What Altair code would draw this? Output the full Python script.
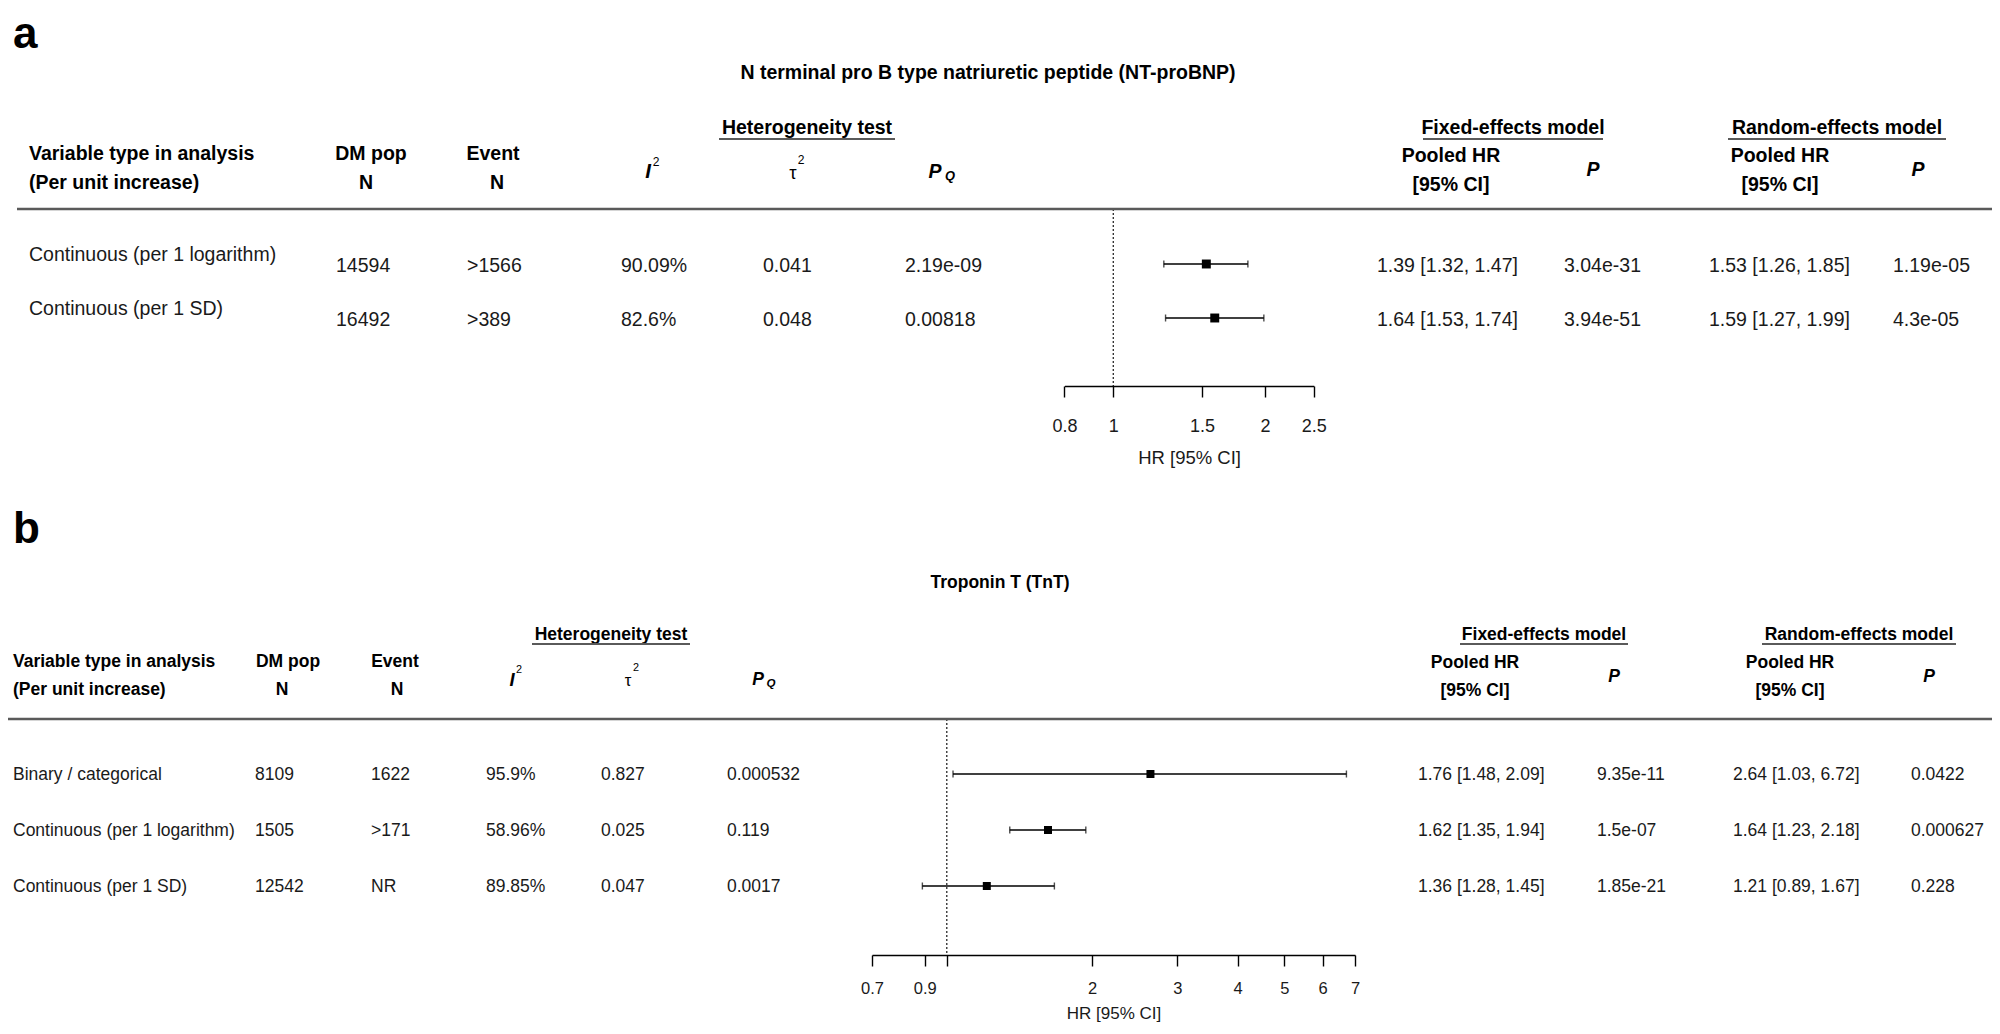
import altair as alt
import pandas as pd

FONT = "Liberation Sans"
OFF = 8          # page margin
W, H = 1984, 1018

# ---------------- Panel a : NT-proBNP ----------------
a_title = "N terminal pro B type natriuretic peptide (NT-proBNP)"
a_labels = ["Continuous (per 1 logarithm)", "Continuous (per 1 SD)"]
a_dmpop = ["14594", "16492"]
a_event = [">1566", ">389"]
a_i2 = ["90.09%", "82.6%"]
a_tau2 = ["0.041", "0.048"]
a_pq = ["2.19e-09", "0.00818"]
a_fixed_hr = ["1.39 [1.32, 1.47]", "1.64 [1.53, 1.74]"]
a_fixed_p = ["3.04e-31", "3.94e-51"]
a_rand_hr = ["1.53 [1.26, 1.85]", "1.59 [1.27, 1.99]"]
a_rand_p = ["1.19e-05", "4.3e-05"]
# plotted estimate (random-effects model, heterogeneity significant)
a_est = [1.53, 1.59]
a_lo = [1.26, 1.27]
a_hi = [1.85, 1.99]
a_ticks = [0.8, 1, 1.5, 2, 2.5]
a_domain = [0.8, 2.5]

# ---------------- Panel b : Troponin T ----------------
b_title = "Troponin T (TnT)"
b_labels = ["Binary / categorical", "Continuous (per 1 logarithm)", "Continuous (per 1 SD)"]
b_dmpop = ["8109", "1505", "12542"]
b_event = ["1622", ">171", "NR"]
b_i2 = ["95.9%", "58.96%", "89.85%"]
b_tau2 = ["0.827", "0.025", "0.047"]
b_pq = ["0.000532", "0.119", "0.0017"]
b_fixed_hr = ["1.76 [1.48, 2.09]", "1.62 [1.35, 1.94]", "1.36 [1.28, 1.45]"]
b_fixed_p = ["9.35e-11", "1.5e-07", "1.85e-21"]
b_rand_hr = ["2.64 [1.03, 6.72]", "1.64 [1.23, 2.18]", "1.21 [0.89, 1.67]"]
b_rand_p = ["0.0422", "0.000627", "0.228"]
# plotted estimate (random for rows 1 & 3, fixed for row 2 where P_Q > 0.1)
b_est = [2.64, 1.62, 1.21]
b_lo = [1.03, 1.35, 0.89]
b_hi = [6.72, 1.94, 1.67]
b_ticks = [0.7, 0.9, 1, 2, 3, 4, 5, 6, 7]
b_hidden_tick = 1
b_domain = [0.7, 7]

col_names = ["label", "dmpop", "event", "i2", "tau2", "pq", "fhr", "fp", "rhr", "rp"]


def frame(labels, dmpop, event, i2, tau2, pq, fhr, fp, rhr, rp, est, lo, hi):
    return pd.DataFrame({
        "idx": list(range(len(labels))), "label": labels, "dmpop": dmpop, "event": event,
        "i2": i2, "tau2": tau2, "pq": pq, "fhr": fhr, "fp": fp, "rhr": rhr, "rp": rp,
        "est": est, "lo": lo, "hi": hi,
    })


df_a = frame(a_labels, a_dmpop, a_event, a_i2, a_tau2, a_pq, a_fixed_hr, a_fixed_p,
             a_rand_hr, a_rand_p, a_est, a_lo, a_hi)
df_b = frame(b_labels, b_dmpop, b_event, b_i2, b_tau2, b_pq, b_fixed_hr, b_fixed_p,
             b_rand_hr, b_rand_p, b_est, b_lo, b_hi)


def txt(text, x, y, size, bold=False, italic=False, align="left", color="black",
        baseline="middle"):
    return alt.Chart(alt.Data(values=[{"k": 0}])).mark_text(
        text=text, font=FONT, fontSize=size,
        fontWeight="bold" if bold else "normal",
        fontStyle="italic" if italic else "normal",
        align=align, baseline=baseline, color=color,
    ).encode(x=alt.value(x - OFF), y=alt.value(y - OFF))


def hline(x0, x1, y, width=2.5, color="#5a5a5a"):
    return alt.Chart(alt.Data(values=[{"k": 0}])).mark_rule(
        color=color, strokeWidth=width
    ).encode(x=alt.value(x0 - OFF), x2=alt.value(x1 - OFF), y=alt.value(y - OFF))


def panel(df, L):
    fs = L["fs"]
    n = len(df)
    yscale = alt.Scale(domain=[0, n - 1], range=[L["row_y"][0] - OFF, L["row_y"][1] - OFF],
                       nice=False, zero=False)
    Y = alt.Y("idx:Q", scale=yscale, axis=None)
    xscale = alt.Scale(type="log", domain=L["domain"],
                       range=[L["ax_x"][0] - OFF, L["ax_x"][1] - OFF], nice=False)
    label_expr = "format(datum.value, '~g')"
    if L.get("hide") is not None:
        label_expr = f"datum.value == {L['hide']} ? '' : format(datum.value, '~g')"
    axis = alt.Axis(
        orient="bottom", offset=L["ax_y"] - (H + OFF), values=L["ticks"],
        labelExpr=label_expr, grid=False,
        labelFont=FONT, labelFontSize=L["tfs"], labelColor="#1a1a1a",
        labelPadding=L["lpad"], labelOverlap=False, labelFlush=False, labelBound=False,
        tickSize=11, tickWidth=1.4, tickColor="black",
        domainColor="black", domainWidth=1.4,
        title="HR [95% CI]", titleFont=FONT, titleFontSize=L["tfs"] + 0.5,
        titleFontWeight="normal", titleColor="#1a1a1a",
        titleY=L["title_y"] - L["ax_y"], titleBaseline="middle",
    )
    layers = []
    # table columns
    for name, x in zip(col_names, L["cols"]):
        dy = L["label_dy"] if name == "label" else 0
        layers.append(
            alt.Chart(df).mark_text(align="left", baseline="middle", font=FONT, fontSize=fs,
                                    color="#1a1a1a", dy=dy)
            .encode(x=alt.value(x - OFF), y=Y, text=f"{name}:N")
        )
    # reference line at HR = 1
    layers.append(
        alt.Chart(alt.Data(values=[{"v": 1}])).mark_rule(
            color="black", strokeWidth=1.1, strokeDash=[2, 2])
        .encode(x=alt.X("v:Q", scale=xscale, axis=axis),
                y=alt.value(L["sep_y"] - OFF), y2=alt.value(L["ax_y"] - OFF))
    )
    # CI lines
    layers.append(
        alt.Chart(df).mark_rule(color="black", strokeWidth=1.7)
        .encode(x=alt.X("lo:Q", scale=xscale, axis=axis), x2="hi:Q",
                y=alt.Y("idx:Q", scale=yscale, axis=None), yOffset=alt.value(L["f_dy"]))
    )
    for f in ["lo", "hi"]:
        layers.append(
            alt.Chart(df).mark_tick(orient="vertical", size=7, thickness=1.4, color="black",
                                    yOffset=L["f_dy"])
            .encode(x=alt.X(f"{f}:Q", scale=xscale, axis=axis), y=Y)
        )
    layers.append(
        alt.Chart(df).mark_point(shape="square", filled=True, size=L["psize"], color="black",
                                 opacity=1, yOffset=L["f_dy"])
        .encode(x=alt.X("est:Q", scale=xscale, axis=axis), y=Y)
    )
    return alt.layer(*layers)


def headers(L, title):
    fs = L["fs"]
    h = L["h"]
    out = [
        txt(L["letter"], 13, L["letter_y"], 44, bold=True, baseline="alphabetic"),
        txt(title, L["title_x"], L["title_yy"], fs, bold=True, align="center"),
        txt("Heterogeneity test", h["het"][0], h["grp_y"], fs, bold=True, align="center"),
        hline(h["het"][1], h["het"][2], h["ul_y"], width=2.2),
        txt("Fixed-effects model", h["fix"][0], h["grp_y"], fs, bold=True, align="center"),
        hline(h["fix"][1], h["fix"][2], h["ul_y"], width=2.2),
        txt("Random-effects model", h["ran"][0], h["grp_y"], fs, bold=True, align="center"),
        hline(h["ran"][1], h["ran"][2], h["ul_y"], width=2.2),
        txt("Variable type in analysis", L["cols"][0], h["l1"], fs, bold=True),
        txt("(Per unit increase)", L["cols"][0], h["l2"], fs, bold=True),
        txt("DM pop", h["dm"][0], h["l1"], fs, bold=True, align="center"),
        txt("N", h["dm"][1], h["l2"], fs, bold=True, align="center"),
        txt("Event", h["ev"][0], h["l1"], fs, bold=True, align="center"),
        txt("N", h["ev"][1], h["l2"], fs, bold=True, align="center"),
        txt("I", h["i2"][0], h["mid"], fs + 1, bold=True, italic=True, align="center"),
        txt("2", h["i2"][1], h["mid"] - 10, fs * 0.62, align="center"),
        txt("τ", h["tau"][0], h["mid"] + 1, fs * 0.95, align="center"),
        txt("2", h["tau"][1], h["mid"] - 12, fs * 0.62, align="center"),
        txt("P", h["pq"][0], h["mid"], fs, bold=True, italic=True, align="center"),
        txt("Q", h["pq"][1], h["mid"] + 4, fs * 0.66, bold=True, italic=True, align="center"),
        txt("Pooled HR", h["fhr"], h["p1"], fs, bold=True, align="center"),
        txt("[95% CI]", h["fhr"], h["p2"], fs, bold=True, align="center"),
        txt("P", h["fp"], h["pmid"], fs, bold=True, italic=True, align="center"),
        txt("Pooled HR", h["rhr"], h["p1"], fs, bold=True, align="center"),
        txt("[95% CI]", h["rhr"], h["p2"], fs, bold=True, align="center"),
        txt("P", h["rp"], h["pmid"], fs, bold=True, italic=True, align="center"),
        hline(L["sep_x"][0], L["sep_x"][1], L["sep_y"], width=2.6),
    ]
    return out


LA = dict(
    fs=19.5, tfs=18, lpad=20, letter="a", letter_y=48, title_x=988, title_yy=73,
    cols=[29, 336, 467, 621, 763, 905, 1377, 1564, 1709, 1893],
    row_y=[266, 320], label_dy=-11, f_dy=-2, psize=80,
    domain=a_domain, ticks=a_ticks, ax_x=[1064.4, 1313.8], ax_y=386, title_y=457,
    sep_y=209, sep_x=[17, 2000],
    h=dict(grp_y=128, ul_y=139, het=(807, 719, 895), fix=(1513, 1423, 1603),
           ran=(1837, 1728, 1946), l1=154, l2=183, dm=(371, 366), ev=(493, 497),
           i2=(648, 656), tau=(793, 801), pq=(935, 950), mid=172,
           fhr=1451, fp=1593, rhr=1780, rp=1918, p1=156, p2=185, pmid=170),
)

LB = dict(
    fs=17.5, tfs=16.5, lpad=14, letter="b", letter_y=543, title_x=1000, title_yy=583,
    cols=[13, 255, 371, 486, 601, 727, 1418, 1597, 1733, 1911],
    row_y=[775, 887], label_dy=0, f_dy=-1, psize=64, hide=b_hidden_tick,
    domain=b_domain, ticks=b_ticks, ax_x=[872, 1355], ax_y=955, title_y=1013,
    sep_y=719, sep_x=[3, 1995],
    h=dict(grp_y=635, ul_y=644, het=(611, 532, 690), fix=(1544, 1460, 1628),
           ran=(1859, 1762, 1956), l1=662, l2=690, dm=(288, 282), ev=(395, 397),
           i2=(512, 519), tau=(628, 636), pq=(758, 771), mid=680,
           fhr=1475, fp=1614, rhr=1790, rp=1929, p1=663, p2=691, pmid=677),
)

layers = [panel(df_a, LA), panel(df_b, LB)] + headers(LA, a_title) + headers(LB, b_title)

chart = (
    alt.layer(*layers)
    .resolve_scale(x="independent", y="independent")
    .properties(width=W, height=H, autosize=alt.AutoSizeParams(type="none"), padding=0,
                background="white")
    .configure_view(stroke=None)
)

chart.save("out.html", embed_options={"renderer": "svg", "actions": False})
